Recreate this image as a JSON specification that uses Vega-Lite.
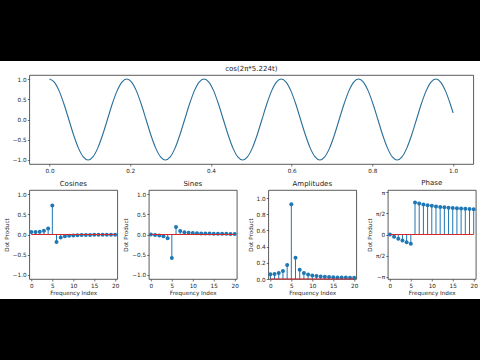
{
  "$schema": "https://vega.github.io/schema/vega-lite/v6.json",
  "padding": 0,
  "background": "white",
  "spacing": 3,
  "center": true,
  "datasets": {
    "signal": [
      {"t": 0.0, "y": 1.0}, {"t": 0.012, "y": 0.9239}, {"t": 0.0239, "y": 0.7071}, {"t": 0.0359, "y": 0.3827},
      {"t": 0.0479, "y": 0.0}, {"t": 0.0598, "y": -0.3827}, {"t": 0.0718, "y": -0.7071}, {"t": 0.0837, "y": -0.9239},
      {"t": 0.0957, "y": -1.0}, {"t": 0.1077, "y": -0.9239}, {"t": 0.1196, "y": -0.7071}, {"t": 0.1316, "y": -0.3827},
      {"t": 0.1436, "y": 0.0}, {"t": 0.1555, "y": 0.3827}, {"t": 0.1675, "y": 0.7071}, {"t": 0.1795, "y": 0.9239},
      {"t": 0.1914, "y": 1.0}, {"t": 0.2034, "y": 0.9239}, {"t": 0.2154, "y": 0.7071}, {"t": 0.2273, "y": 0.3827},
      {"t": 0.2393, "y": 0.0}, {"t": 0.2512, "y": -0.3827}, {"t": 0.2632, "y": -0.7071}, {"t": 0.2752, "y": -0.9239},
      {"t": 0.2871, "y": -1.0}, {"t": 0.2991, "y": -0.9239}, {"t": 0.3111, "y": -0.7071}, {"t": 0.323, "y": -0.3827},
      {"t": 0.335, "y": 0.0}, {"t": 0.347, "y": 0.3827}, {"t": 0.3589, "y": 0.7071}, {"t": 0.3709, "y": 0.9239},
      {"t": 0.3828, "y": 1.0}, {"t": 0.3948, "y": 0.9239}, {"t": 0.4068, "y": 0.7071}, {"t": 0.4187, "y": 0.3827},
      {"t": 0.4307, "y": 0.0}, {"t": 0.4427, "y": -0.3827}, {"t": 0.4546, "y": -0.7071}, {"t": 0.4666, "y": -0.9239},
      {"t": 0.4786, "y": -1.0}, {"t": 0.4905, "y": -0.9239}, {"t": 0.5025, "y": -0.7071}, {"t": 0.5145, "y": -0.3827},
      {"t": 0.5264, "y": 0.0}, {"t": 0.5384, "y": 0.3827}, {"t": 0.5503, "y": 0.7071}, {"t": 0.5623, "y": 0.9239},
      {"t": 0.5743, "y": 1.0}, {"t": 0.5862, "y": 0.9239}, {"t": 0.5982, "y": 0.7071}, {"t": 0.6102, "y": 0.3827},
      {"t": 0.6221, "y": 0.0}, {"t": 0.6341, "y": -0.3827}, {"t": 0.6461, "y": -0.7071}, {"t": 0.658, "y": -0.9239},
      {"t": 0.67, "y": -1.0}, {"t": 0.6819, "y": -0.9239}, {"t": 0.6939, "y": -0.7071}, {"t": 0.7059, "y": -0.3827},
      {"t": 0.7178, "y": 0.0}, {"t": 0.7298, "y": 0.3827}, {"t": 0.7418, "y": 0.7071}, {"t": 0.7537, "y": 0.9239},
      {"t": 0.7657, "y": 1.0}, {"t": 0.7777, "y": 0.9239}, {"t": 0.7896, "y": 0.7071}, {"t": 0.8016, "y": 0.3827},
      {"t": 0.8136, "y": 0.0}, {"t": 0.8255, "y": -0.3827}, {"t": 0.8375, "y": -0.7071}, {"t": 0.8494, "y": -0.9239},
      {"t": 0.8614, "y": -1.0}, {"t": 0.8734, "y": -0.9239}, {"t": 0.8853, "y": -0.7071}, {"t": 0.8973, "y": -0.3827},
      {"t": 0.9093, "y": 0.0}, {"t": 0.9212, "y": 0.3827}, {"t": 0.9332, "y": 0.7071}, {"t": 0.9452, "y": 0.9239},
      {"t": 0.9571, "y": 1.0}, {"t": 0.9691, "y": 0.9239}, {"t": 0.981, "y": 0.7071}, {"t": 0.993, "y": 0.3827},
      {"t": 1.0, "y": 0.1631}
    ],
    "spectrum": [
      {"k": 0, "cos": 0.0601, "sin": 0.0, "amp": 0.0601, "phase": 0.0},
      {"k": 1, "cos": 0.0624, "sin": -0.0101, "amp": 0.0632, "phase": -0.161},
      {"k": 2, "cos": 0.0704, "sin": -0.0229, "amp": 0.0741, "phase": -0.314},
      {"k": 3, "cos": 0.0897, "sin": -0.0437, "amp": 0.0998, "phase": -0.453},
      {"k": 4, "cos": 0.1453, "sin": -0.0944, "amp": 0.1733, "phase": -0.576},
      {"k": 5, "cos": 0.7164, "sin": -0.5816, "amp": 0.9227, "phase": -0.682},
      {"k": 6, "cos": -0.1884, "sin": 0.1835, "amp": 0.263, "phase": 2.369},
      {"k": 7, "cos": -0.0756, "sin": 0.0859, "amp": 0.1144, "phase": 2.292},
      {"k": 8, "cos": -0.0447, "sin": 0.0581, "amp": 0.0733, "phase": 2.227},
      {"k": 9, "cos": -0.0306, "sin": 0.0446, "amp": 0.0541, "phase": 2.171},
      {"k": 10, "cos": -0.0226, "sin": 0.0366, "amp": 0.043, "phase": 2.123},
      {"k": 11, "cos": -0.0175, "sin": 0.0313, "amp": 0.0358, "phase": 2.081},
      {"k": 12, "cos": -0.0141, "sin": 0.0274, "amp": 0.0308, "phase": 2.045},
      {"k": 13, "cos": -0.0116, "sin": 0.0244, "amp": 0.027, "phase": 2.013},
      {"k": 14, "cos": -0.0097, "sin": 0.0221, "amp": 0.0242, "phase": 1.985},
      {"k": 15, "cos": -0.0083, "sin": 0.0202, "amp": 0.0218, "phase": 1.961},
      {"k": 16, "cos": -0.0072, "sin": 0.0186, "amp": 0.02, "phase": 1.938},
      {"k": 17, "cos": -0.0063, "sin": 0.0173, "amp": 0.0184, "phase": 1.919},
      {"k": 18, "cos": -0.0055, "sin": 0.0162, "amp": 0.0171, "phase": 1.901},
      {"k": 19, "cos": -0.0049, "sin": 0.0152, "amp": 0.016, "phase": 1.884},
      {"k": 20, "cos": -0.0044, "sin": 0.0143, "amp": 0.015, "phase": 1.869}
    ],
    "letterbox": [{"band": "bar"}]
  },
  "vconcat": [
    {
      "width": 507, "height": 61,
      "data": {"name": "letterbox"},
      "view": {"fill": "black", "stroke": null},
      "mark": {"type": "rect", "color": "black"},
      "encoding": {}
    },
    {
      "bounds": "flush",
      "spacing": 26,
      "vconcat": [
        {
          "width": 444, "height": 89,
          "title": "cos(2π*5.224t)",
          "data": {"name": "signal"},
          "mark": {"type": "line", "color": "#2a6f99", "strokeWidth": 1.1, "interpolate": "monotone"},
          "encoding": {
            "x": {"field": "t", "type": "quantitative", "scale": {"domain": [-0.05, 1.05], "nice": false, "zero": false},
                  "axis": {"values": [0, 0.2, 0.4, 0.6, 0.8, 1.0], "tickCount": 12, "format": ".1f", "title": null}},
            "y": {"field": "y", "type": "quantitative", "scale": {"domain": [-1.1, 1.1], "nice": false},
                  "axis": {"values": [-1, -0.5, 0, 0.5, 1], "tickCount": 12, "format": ".1f", "title": null}}
          }
        },
        {
          "bounds": "flush",
          "spacing": 31.5,
          "hconcat": [
            {
              "width": 88, "height": 89, "title": "Cosines",
              "data": {"name": "spectrum"},
              "layer": [
                {"mark": {"type": "rule", "color": "#1f77b4", "strokeWidth": 1},
                 "encoding": {
                   "x": {"field": "k", "type": "quantitative", "title": "Frequency Index", "scale": {"domain": [-0.5, 20.5], "nice": false, "zero": false}, "axis": {"values": [0, 5, 10, 15, 20], "tickCount": 12}},
                   "y": {"field": "cos", "type": "quantitative", "title": "Dot Product", "scale": {"domain": [-1.1, 1.1], "nice": false}, "axis": {"values": [-1, -0.5, 0, 0.5, 1], "tickCount": 12, "format": ".1f"}},
                   "y2": {"datum": 0}}},
                {"mark": {"type": "point", "filled": true, "color": "#1f77b4", "size": 16, "opacity": 1},
                 "encoding": {
                   "x": {"field": "k", "type": "quantitative", "title": "Frequency Index", "axis": {"values": [0, 5, 10, 15, 20], "tickCount": 12}},
                   "y": {"field": "cos", "type": "quantitative", "title": "Dot Product", "axis": {"values": [-1, -0.5, 0, 0.5, 1], "tickCount": 12, "format": ".1f"}}}},
                {"transform": [{"aggregate": [{"op": "min", "field": "k", "as": "kmin"}, {"op": "max", "field": "k", "as": "kmax"}]}],
                 "mark": {"type": "rule", "color": "#d62728", "strokeWidth": 1},
                 "encoding": {
                   "x": {"field": "kmin", "type": "quantitative", "title": "Frequency Index", "axis": {"values": [0, 5, 10, 15, 20], "tickCount": 12}},
                   "x2": {"field": "kmax"},
                   "y": {"datum": 0, "type": "quantitative", "title": "Dot Product", "axis": {"values": [-1, -0.5, 0, 0.5, 1], "tickCount": 12, "format": ".1f"}}}}
              ]
            },
            {
              "width": 88, "height": 89, "title": "Sines",
              "data": {"name": "spectrum"},
              "layer": [
                {"mark": {"type": "rule", "color": "#1f77b4", "strokeWidth": 1},
                 "encoding": {
                   "x": {"field": "k", "type": "quantitative", "title": "Frequency Index", "scale": {"domain": [-0.5, 20.5], "nice": false, "zero": false}, "axis": {"values": [0, 5, 10, 15, 20], "tickCount": 12}},
                   "y": {"field": "sin", "type": "quantitative", "title": "Dot Product", "scale": {"domain": [-1.1, 1.1], "nice": false}, "axis": {"values": [-1, -0.5, 0, 0.5, 1], "tickCount": 12, "format": ".1f"}},
                   "y2": {"datum": 0}}},
                {"mark": {"type": "point", "filled": true, "color": "#1f77b4", "size": 16, "opacity": 1},
                 "encoding": {
                   "x": {"field": "k", "type": "quantitative", "title": "Frequency Index", "axis": {"values": [0, 5, 10, 15, 20], "tickCount": 12}},
                   "y": {"field": "sin", "type": "quantitative", "title": "Dot Product", "axis": {"values": [-1, -0.5, 0, 0.5, 1], "tickCount": 12, "format": ".1f"}}}},
                {"transform": [{"aggregate": [{"op": "min", "field": "k", "as": "kmin"}, {"op": "max", "field": "k", "as": "kmax"}]}],
                 "mark": {"type": "rule", "color": "#d62728", "strokeWidth": 1},
                 "encoding": {
                   "x": {"field": "kmin", "type": "quantitative", "title": "Frequency Index", "axis": {"values": [0, 5, 10, 15, 20], "tickCount": 12}},
                   "x2": {"field": "kmax"},
                   "y": {"datum": 0, "type": "quantitative", "title": "Dot Product", "axis": {"values": [-1, -0.5, 0, 0.5, 1], "tickCount": 12, "format": ".1f"}}}}
              ]
            },
            {
              "width": 88, "height": 89, "title": "Amplitudes",
              "data": {"name": "spectrum"},
              "layer": [
                {"mark": {"type": "rule", "color": "#1f77b4", "strokeWidth": 1},
                 "encoding": {
                   "x": {"field": "k", "type": "quantitative", "title": "Frequency Index", "scale": {"domain": [-0.5, 20.5], "nice": false, "zero": false}, "axis": {"values": [0, 5, 10, 15, 20], "tickCount": 12}},
                   "y": {"field": "amp", "type": "quantitative", "title": "Dot Product", "scale": {"domain": [0, 1.1], "nice": false}, "axis": {"values": [0, 0.2, 0.4, 0.6, 0.8, 1.0], "tickCount": 12, "format": ".1f"}},
                   "y2": {"datum": 0}}},
                {"mark": {"type": "point", "filled": true, "color": "#1f77b4", "size": 16, "opacity": 1},
                 "encoding": {
                   "x": {"field": "k", "type": "quantitative", "title": "Frequency Index", "axis": {"values": [0, 5, 10, 15, 20], "tickCount": 12}},
                   "y": {"field": "amp", "type": "quantitative", "title": "Dot Product", "axis": {"values": [0, 0.2, 0.4, 0.6, 0.8, 1.0], "tickCount": 12, "format": ".1f"}}}},
                {"transform": [{"aggregate": [{"op": "min", "field": "k", "as": "kmin"}, {"op": "max", "field": "k", "as": "kmax"}]}],
                 "mark": {"type": "rule", "color": "#d62728", "strokeWidth": 1},
                 "encoding": {
                   "x": {"field": "kmin", "type": "quantitative", "title": "Frequency Index", "axis": {"values": [0, 5, 10, 15, 20], "tickCount": 12}},
                   "x2": {"field": "kmax"},
                   "y": {"datum": 0, "type": "quantitative", "title": "Dot Product", "axis": {"values": [0, 0.2, 0.4, 0.6, 0.8, 1.0], "tickCount": 12, "format": ".1f"}}}}
              ]
            },
            {
              "width": 88, "height": 89, "title": "Phase",
              "data": {"name": "spectrum"},
              "layer": [
                {"mark": {"type": "rule", "color": "#1f77b4", "strokeWidth": 1},
                 "encoding": {
                   "x": {"field": "k", "type": "quantitative", "title": "Frequency Index", "scale": {"domain": [-0.5, 20.5], "nice": false, "zero": false}, "axis": {"values": [0, 5, 10, 15, 20], "tickCount": 12}},
                   "y": {"field": "phase", "type": "quantitative", "title": "Dot Product", "scale": {"domain": [-3.3, 3.3], "nice": false}, "axis": {"values": [-3.14159, -1.5708, 0, 1.5708, 3.14159], "tickCount": 12, "labelExpr": "datum.value > 3 ? 'π' : datum.value > 1 ? 'π/2' : datum.value > -1 ? '0' : datum.value > -3 ? 'π/2' : '−π'"}},
                   "y2": {"datum": 0}}},
                {"mark": {"type": "point", "filled": true, "color": "#1f77b4", "size": 16, "opacity": 1},
                 "encoding": {
                   "x": {"field": "k", "type": "quantitative", "title": "Frequency Index", "axis": {"values": [0, 5, 10, 15, 20], "tickCount": 12}},
                   "y": {"field": "phase", "type": "quantitative", "title": "Dot Product", "axis": {"values": [-3.14159, -1.5708, 0, 1.5708, 3.14159], "tickCount": 12, "labelExpr": "datum.value > 3 ? 'π' : datum.value > 1 ? 'π/2' : datum.value > -1 ? '0' : datum.value > -3 ? 'π/2' : '−π'"}}}},
                {"transform": [{"aggregate": [{"op": "min", "field": "k", "as": "kmin"}, {"op": "max", "field": "k", "as": "kmax"}]}],
                 "mark": {"type": "rule", "color": "#d62728", "strokeWidth": 1},
                 "encoding": {
                   "x": {"field": "kmin", "type": "quantitative", "title": "Frequency Index", "axis": {"values": [0, 5, 10, 15, 20], "tickCount": 12}},
                   "x2": {"field": "kmax"},
                   "y": {"datum": 0, "type": "quantitative", "title": "Dot Product", "axis": {"values": [-3.14159, -1.5708, 0, 1.5708, 3.14159], "tickCount": 12, "labelExpr": "datum.value > 3 ? 'π' : datum.value > 1 ? 'π/2' : datum.value > -1 ? '0' : datum.value > -3 ? 'π/2' : '−π'"}}}}
              ]
            }
          ]
        }
      ]
    },
    {
      "width": 507, "height": 62,
      "data": {"name": "letterbox"},
      "view": {"fill": "black", "stroke": null},
      "mark": {"type": "rect", "color": "black"},
      "encoding": {}
    }
  ],
  "config": {
    "font": "DejaVu Sans",
    "view": {"stroke": "#333333", "strokeWidth": 0.8},
    "axis": {
      "grid": false, "domain": false, "labelOverlap": false,
      "tickColor": "#333333", "tickSize": 2, "tickWidth": 0.7,
      "labelFontSize": 5.7, "labelColor": "#222222", "labelPadding": 1.2,
      "titleFontSize": 5.7, "titleFontWeight": "normal", "titleColor": "#222222", "titlePadding": 3
    },
    "axisX": {"titlePadding": 1.5},
    "title": {"fontSize": 7, "fontWeight": "normal", "color": "#222222", "offset": 3}
  }
}
